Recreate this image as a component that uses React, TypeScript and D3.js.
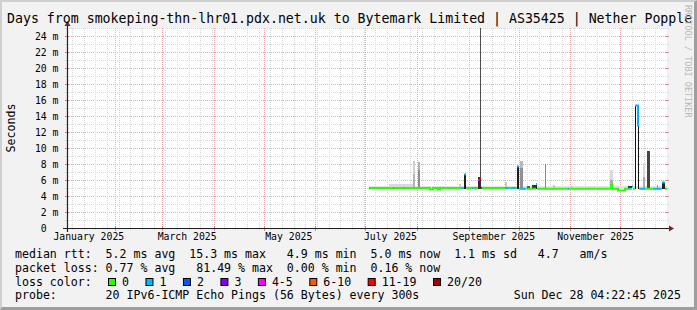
import React from "react";
import * as d3 from "d3";

const W = 697;
const H = 310;

// ---- axes ----
const graphStart = "2025-01-02T22:00";
const graphEnd = "2025-12-28T22:00";
const yMaxMs = 25;
const yMajor = [0, 2, 4, 6, 8, 10, 12, 14, 16, 18, 20, 22, 24];
const yMinor = [1, 3, 5, 7, 9, 11, 13, 15, 17, 19, 21, 23, 25];
const monthLabels = ["2025-01-01", "2025-03-01", "2025-05-01", "2025-07-01", "2025-09-01", "2025-11-01"];

// ---- median rtt (ms) step series, with lost pings (of 20) ----
const medianDates = [
  "2025-07-03T03:00", "2025-07-03T17:00", "2025-07-17T12:00", "2025-07-18T03:00", "2025-07-23T12:00",
  "2025-07-24T03:00", "2025-08-08T17:00", "2025-08-10T12:00", "2025-08-13T12:00", "2025-08-14T17:00",
  "2025-08-27T08:00", "2025-08-28T12:00", "2025-08-29T03:00", "2025-08-30T08:00", "2025-09-02T22:00",
  "2025-09-03T12:00", "2025-09-04T17:00", "2025-09-05T08:00", "2025-09-06T12:00", "2025-09-07T10:00",
  "2025-09-08T08:00", "2025-09-08T22:00", "2025-09-22T17:00", "2025-09-25T03:00", "2025-09-26T08:00",
  "2025-09-29T08:00", "2025-09-29T22:00", "2025-10-01T03:00", "2025-10-01T17:00", "2025-10-04T17:00",
  "2025-10-05T15:00", "2025-10-06T05:00", "2025-10-08T15:00", "2025-10-09T05:00", "2025-10-11T08:00",
  "2025-10-11T22:00", "2025-10-30T12:00", "2025-10-31T03:00", "2025-11-25T08:00", "2025-11-25T22:00",
  "2025-11-29T12:00", "2025-12-03T17:00", "2025-12-05T12:00", "2025-12-06T03:00", "2025-12-07T22:00",
  "2025-12-08T12:00", "2025-12-09T17:00", "2025-12-11T12:00", "2025-12-12T03:00", "2025-12-12T17:00",
  "2025-12-15T17:00", "2025-12-20T12:00", "2025-12-25T08:00", "2025-12-25T22:00", "2025-12-27T17:00",
];
const medianMs = [
  5.0, 5.0, 5.0, 5.0, 5.0,
  5.0, 4.8, 5.0, 4.8, 5.0,
  5.0, 5.0, 6.7, 5.0, 5.0,
  5.0, 5.0, 5.0, 6.0, 6.2,
  5.0, 5.0, 5.0, 5.0, 5.0,
  5.0, 7.7, 4.9, 4.9, 4.9,
  4.9, 4.9, 4.9, 4.9, 5.5,
  4.9, 4.9, 4.9, 5.4, 4.9,
  4.7, 4.9, 4.9, 4.9, 5.2,
  4.9, 15.3, 12.8, 4.9, 4.9,
  4.9, 4.9, 4.9, 5.7, 4.9,
];
const medianLoss = [
  1, 0, 1, 0, 1,
  0, 0, 0, 0, 0,
  1, 0, 1, 0, 1,
  0, 1, 0, 4, 12,
  2, 0, 1, 0, 1,
  0, 1, 0, 1, 0,
  1, 0, 1, 0, 1,
  0, 1, 0, 0, 0,
  0, 0, 1, 0, 1,
  0, 1, 1, 0, 1,
  0, 1, 0, 1, 0,
];
const dataEnd = "2025-12-28T22:00";

// ---- smoke (ping spread) ----
const smokeFrom = [
  "2025-07-03T03:00", "2025-07-15T03:00", "2025-07-29T12:00", "2025-07-29T12:00", "2025-08-01T12:00",
  "2025-08-01T12:00", "2025-08-26T03:00", "2025-08-29T03:00", "2025-09-06T12:00", "2025-09-07T10:00",
  "2025-09-22T17:00", "2025-09-29T22:00", "2025-10-01T17:00", "2025-10-01T17:00", "2025-10-06T05:00",
  "2025-10-09T05:00", "2025-10-11T08:00", "2025-10-16T17:00", "2025-10-21T12:00", "2025-10-31T17:00",
  "2025-11-24T17:00", "2025-11-24T17:00", "2025-11-25T08:00", "2025-12-05T12:00", "2025-12-09T17:00",
  "2025-12-11T12:00", "2025-12-14T12:00", "2025-12-14T12:00", "2025-12-17T05:00", "2025-12-22T15:00",
  "2025-12-25T22:00",
];
const smokeTo = [
  "2025-12-28T22:00", "2025-07-29T12:00", "2025-07-30T17:00", "2025-07-30T17:00", "2025-08-02T17:00",
  "2025-08-02T17:00", "2025-08-27T08:00", "2025-08-30T08:00", "2025-09-08T08:00", "2025-09-08T00:00",
  "2025-09-23T22:00", "2025-10-01T03:00", "2025-10-03T12:00", "2025-10-03T12:00", "2025-10-07T17:00",
  "2025-10-11T08:00", "2025-10-11T22:00", "2025-10-17T08:00", "2025-10-22T17:00", "2025-11-02T12:00",
  "2025-11-26T12:00", "2025-11-26T12:00", "2025-11-25T22:00", "2025-12-07T22:00", "2025-12-10T08:00",
  "2025-12-12T03:00", "2025-12-15T17:00", "2025-12-15T17:00", "2025-12-18T17:00", "2025-12-23T12:00",
  "2025-12-27T17:00",
];
const smokeLow = [
  4.9, 4.9, 4.9, 4.9, 4.9, 4.9, 4.9, 4.9, 4.9, 6.4,
  4.9, 4.9, 4.9, 4.9, 4.9, 4.9, 4.9, 4.9, 4.9, 4.9,
  4.9, 4.9, 4.9, 4.9, 4.9, 4.9, 4.9, 4.9, 4.9, 4.9,
  4.9,
];
const smokeHigh = [
  5.3, 5.45, 8.4, 6.8, 8.3, 7.2, 5.5, 6.75, 6.4, 26,
  5.7, 7.75, 8.4, 7.5, 5.3, 5.4, 5.5, 8.0, 5.4, 5.2,
  7.3, 6.0, 5.4, 5.2, 15.4, 15.4, 8.1, 6.4, 9.6, 5.4,
  5.7,
];
const smokeDensity = [
  0.03, 0.07, 0.11, 0.24, 0.26, 0.43, 0.11, 0.94, 0.86, 0.71,
  0.15, 0.94, 0.22, 0.41, 0.68, 0.84, 0.92, 0.44, 0.15, 0.09,
  0.065, 0.29, 0.86, 0.86, 1.0, 1.0, 0.074, 0.29, 0.76, 0.37,
  0.92,
];

// ---- loss colour legend ----
const lossLabels = ["0", "1", "2", "3", "4-5", "6-10", "11-19", "20/20"];
const lossUpper = [0, 1, 2, 3, 5, 10, 19, 20];
const lossColors = ["#26ff00", "#00b8ff", "#0059ff", "#7e00ff", "#ff00ff", "#ff5500", "#ff0000", "#a10000"];

const titleText = "Days from smokeping-thn-lhr01.pdx.net.uk to Bytemark Limited | AS35425 | Nether Popple";
const legendRtt = "median rtt:  5.2 ms avg  15.3 ms max   4.9 ms min  5.0 ms now  1.1 ms sd   4.7   am/s";
const legendLoss = "packet loss: 0.77 % avg   81.49 % max  0.00 % min  0.16 % now";
const legendLossTitle = "loss color:";
const legendProbe = "probe:       20 IPv6-ICMP Echo Pings (56 Bytes) every 300s";
const legendDate = "Sun Dec 28 04:22:45 2025";

const parse = (s: string) => new Date(s + ":00Z");
const MONO = "'DejaVu Sans Mono', monospace";

const X0 = 67, X1 = 667, Y0 = 228, Y1 = 28;

export default function App() {
  const x = d3.scaleUtc().domain([parse(graphStart), parse(graphEnd)]).range([X0, X1]);
  const y = d3.scaleLinear().domain([0, yMaxMs]).range([Y0, Y1]);
  const cx = (v: number) => Math.round(v) + 0.5;
  const shade = d3.interpolateRgb("#e8e8e8", "#111111");

  const bandOf = (loss: number) => lossUpper.findIndex((u) => loss <= u);

  // median runs by loss band
  const samples = medianDates.map((d, i) => ({ t: parse(d), v: medianMs[i], band: bandOf(medianLoss[i]) }));
  const endT = parse(dataEnd);
  const runs: { band: number; pts: [number, number][]; endPt: [number, number] }[] = [];
  samples.forEach((s, i) => {
    const next = i + 1 < samples.length ? samples[i + 1].t : endT;
    let run = runs[runs.length - 1];
    if (!run || run.band !== s.band) {
      run = { band: s.band, pts: [], endPt: [0, 0] };
      runs.push(run);
    }
    run.pts.push([x(s.t), y(s.v)]);
    run.endPt = [x(next), y(s.v)];
  });
  const lineGen = d3.line<[number, number]>().curve(d3.curveStepAfter);

  const majorMonths = d3.utcMonth.range(parse(graphStart), parse(graphEnd));
  const minorWeeks = d3.utcMonday.range(parse(graphStart), parse(graphEnd));
  const fmt = d3.utcFormat("%B %Y");

  const gridMinor = "#d6d6d6";
  const gridMajor = "#eeaaaa";

  // legend boxes layout
  const cw = 6.97;
  let bx = 108;
  const boxes = lossLabels.map((l, i) => {
    const item = { x: bx, label: l, color: lossColors[i] };
    bx += 30.5 + l.length * cw;
    return item;
  });

  return (
    <div style={{ position: "absolute", left: 0, top: 0 }}>
      <svg width={W} height={H} viewBox={`0 0 ${W} ${H}`} xmlns="http://www.w3.org/2000/svg">
        <defs>
          <clipPath id="plot">
            <rect x={X0} y={Y1} width={X1 - X0} height={Y0 - Y1} />
          </clipPath>
        </defs>
        <rect x={0} y={0} width={W} height={H} fill="#f2f2f2" />
        <rect x={X0} y={Y1} width={X1 - X0} height={Y0 - Y1} fill="#ffffff" />

        {/* horizontal grid */}
        {yMinor.map((v) => (
          <g key={"hm" + v}>
            <line x1={X0} x2={X1} y1={cx(y(v))} y2={cx(y(v))} stroke={gridMinor} strokeDasharray="1,1" />
            <line x1={X0 - 2} x2={X0} y1={cx(y(v))} y2={cx(y(v))} stroke={gridMinor} />
            <line x1={X1} x2={X1 + 2} y1={cx(y(v))} y2={cx(y(v))} stroke={gridMinor} />
          </g>
        ))}
        {yMajor.filter((v) => v > 0).map((v) => (
          <g key={"hM" + v}>
            <line x1={X0} x2={X1} y1={cx(y(v))} y2={cx(y(v))} stroke={gridMajor} strokeDasharray="1,1" />
            <line x1={X0 - 2} x2={X0 + 2} y1={cx(y(v))} y2={cx(y(v))} stroke="#dd8888" />
            <line x1={X1 - 2} x2={X1 + 2} y1={cx(y(v))} y2={cx(y(v))} stroke="#dd8888" />
          </g>
        ))}
        {/* vertical grid */}
        {minorWeeks.map((d) => (
          <g key={"vm" + d.getTime()}>
            <line x1={cx(x(d))} x2={cx(x(d))} y1={Y1} y2={Y0} stroke={gridMinor} strokeDasharray="1,1" />
            <line x1={cx(x(d))} x2={cx(x(d))} y1={Y0} y2={Y0 + 2} stroke={gridMinor} />
          </g>
        ))}
        {majorMonths.map((d) => (
          <g key={"vM" + d.getTime()}>
            <line x1={cx(x(d))} x2={cx(x(d))} y1={Y1} y2={Y0} stroke={gridMajor} strokeDasharray="1,1" />
            <line x1={cx(x(d))} x2={cx(x(d))} y1={Y0 - 2} y2={Y0 + 3} stroke="#dd8888" />
          </g>
        ))}

        {/* smoke */}
        <g clipPath="url(#plot)" shapeRendering="crispEdges">
          {smokeFrom.map((f, i) => {
            const xa = x(parse(f));
            const xb = x(parse(smokeTo[i]));
            const ya = y(smokeHigh[i]);
            const yb = y(smokeLow[i]);
            return (
              <rect key={"s" + i} x={xa} y={ya} width={Math.max(1, xb - xa)} height={yb - ya}
                fill={shade(smokeDensity[i])} />
            );
          })}
        </g>

        {/* median line by loss colour */}
        <g clipPath="url(#plot)">
          {runs.map((r, i) => (
            <path key={"m" + i} d={lineGen([...r.pts, r.endPt]) || ""} fill="none"
              stroke={lossColors[r.band]} strokeWidth={2} />
          ))}
        </g>

        {/* axes */}
        <line x1={X0 - 4} x2={X1 + 4} y1={Y0 + 0.5} y2={Y0 + 0.5} stroke="#1f1f1f" strokeWidth={1.2} />
        <line x1={X0 + 0.5} x2={X0 + 0.5} y1={Y0 + 4} y2={Y1 - 4} stroke="#1f1f1f" strokeWidth={1.2} />
        <path d={`M${X1 + 2},${Y0 + 0.5 - 3}L${X1 + 2},${Y0 + 0.5 + 3}L${X1 + 7},${Y0 + 0.5}Z`} fill="#801f1f" />
        <path d={`M${X0 + 0.5 - 3},${Y1 - 2}L${X0 + 0.5 + 3},${Y1 - 2}L${X0 + 0.5},${Y1 - 7}Z`} fill="#801f1f" />

        {/* y labels */}
        {yMajor.map((v) => (
          <text key={"yl" + v} x={v === 0 ? 58.5 - 2 * 5.9 : 58.5} y={y(v) + 3.5} textAnchor="end"
            fontFamily={MONO} fontSize={9.8} fill="#000">
            {v === 0 ? "0" : `${v} m`}
          </text>
        ))}
        {/* x labels */}
        {monthLabels.map((m) => {
          const d = d3.utcDay.offset(parse(m + "T00:00"), 15);
          return (
            <text key={"xl" + m} x={x(d)} y={240} textAnchor="middle" fontFamily={MONO} fontSize={9.8} fill="#000">
              {fmt(parse(m + "T00:00"))}
            </text>
          );
        })}

        {/* unit label */}
        <text transform="translate(15,128) rotate(-90)" textAnchor="middle" fontFamily={MONO} fontSize={11.6} fill="#000">
          Seconds
        </text>

        {/* title */}
        <text x={7} y={23} fontFamily={MONO} fontSize={13.24} fill="#000" xmlSpace="preserve" style={{ whiteSpace: "pre" }}>
          {titleText}
        </text>

        {/* watermark */}
        <text transform="translate(685,5) rotate(90)" fontFamily={MONO} fontSize={8.5} fill="#b8b8b8">
          RRDTOOL / TOBI OETIKER
        </text>

        {/* legend */}
        <g fontFamily={MONO} fontSize={11.58} fill="#000">
          <text x={15} y={258.3} xmlSpace="preserve" style={{ whiteSpace: "pre" }}>{legendRtt}</text>
          <text x={15} y={271.7} xmlSpace="preserve" style={{ whiteSpace: "pre" }}>{legendLoss}</text>
          <text x={15} y={285.7} xmlSpace="preserve" style={{ whiteSpace: "pre" }}>{legendLossTitle}</text>
          {boxes.map((b) => (
            <g key={"b" + b.label}>
              <rect x={b.x + 0.5} y={278.5} width={7} height={7} fill={b.color} stroke="#000" strokeWidth={1} />
              <text x={b.x + 14} y={285.7}>{b.label}</text>
            </g>
          ))}
          <text x={15} y={299.3} xmlSpace="preserve" style={{ whiteSpace: "pre" }}>{legendProbe}</text>
          <text x={681} y={299.3} textAnchor="end">{legendDate}</text>
        </g>

        {/* 3D border */}
        <path d={`M0,${H}L2,${H - 2}L2,2L${W - 3},2L${W},0L0,0Z`} fill="#cfcfcf" />
        <path d={`M2,${H - 3}L${W - 3},${H - 3}L${W - 3},2L${W},0L${W},${H}L0,${H}Z`} fill="#9e9e9e" />
      </svg>
    </div>
  );
}
